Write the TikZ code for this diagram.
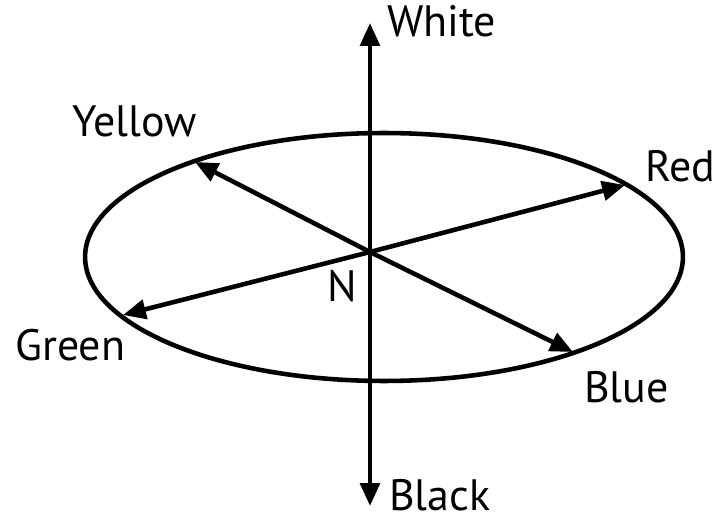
\documentclass[tikz,border=0pt]{standalone}
\usepackage{fontspec}
\setmainfont{PT Sans}
\usepackage{tikz}
\usetikzlibrary{arrows.meta, positioning}

\begin{document}
\begin{tikzpicture}[x=0.02cm, y=-0.02cm, line width=2.6pt,
    >={Triangle[length=13pt, width=11pt]},
    lbl/.style={anchor=base west, inner sep=0pt, font=\fontsize{25}{30}\selectfont}]
    \useasboundingbox (0,0) rectangle (717,520);

    % ELLIPSE
    \draw (384,257) ellipse [x radius=5.98cm, y radius=2.48cm];

    % CENTRE AND TIPS
    \coordinate (Centre) at (370,252);
    \coordinate (WhiteTip) at (370,23);
    \coordinate (BlackTip) at (370,506);
    \coordinate (YellowTip) at (195,162);
    \coordinate (RedTip) at (625,185);
    \coordinate (GreenTip) at (123,315);
    \coordinate (BlueTip) at (573,352);

    % ARROWS
    \draw[<->] (WhiteTip) -- (BlackTip);
    \draw[->] (Centre) -- (YellowTip);
    \draw[->] (Centre) -- (RedTip);
    \draw[->] (Centre) -- (GreenTip);
    \draw[->] (Centre) -- (BlueTip);

    % LABELS
    \node (White) [lbl] at (385,37) {White};
    \node (Black) [lbl] at (387,510) {Black};
    \node (Yellow) [lbl] at (70,137) {Yellow};
    \node (Red) [lbl] at (643,182) {Red};
    \node (Green) [lbl] at (13,360) {Green};
    \node (Blue) [lbl] at (582,402) {Blue};
    \node (N) [lbl] at (325,302) {N};
\end{tikzpicture}
\end{document}
